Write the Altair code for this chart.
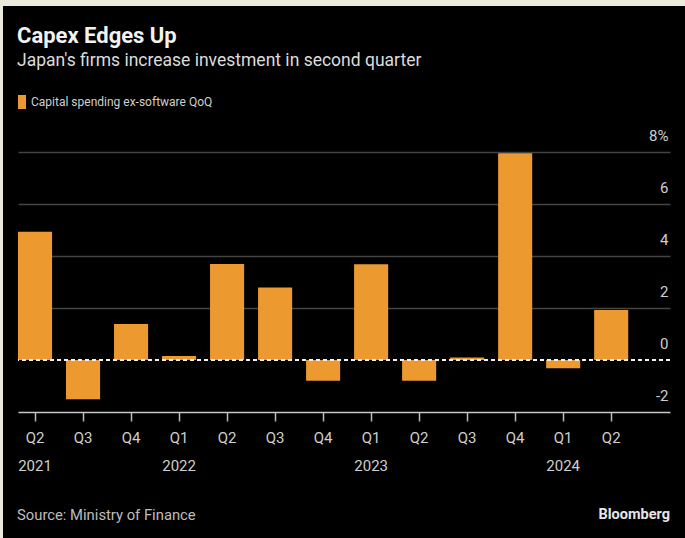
import altair as alt
import pandas as pd

# ---- data ----
periods = ["Q2 2021", "Q3 2021", "Q4 2021", "Q1 2022", "Q2 2022", "Q3 2022", "Q4 2022",
           "Q1 2023", "Q2 2023", "Q3 2023", "Q4 2023", "Q1 2024", "Q2 2024"]
values = [4.93, -1.51, 1.38, 0.15, 3.69, 2.79, -0.80, 3.68, -0.80, 0.10, 7.95, -0.32, 1.92]
series_name = "Capital spending ex-software QoQ"
y_ticks = [-2, 0, 2, 4, 6, 8]

title_text = "Capex Edges Up"
subtitle_text = "Japan's firms increase investment in second quarter"
source_text = "Source: Ministry of Finance"
brand_text = "Bloomberg"

df = pd.DataFrame({"period": periods, "value": values, "series": [series_name] * len(periods)})

FONT = "Roboto"
ORANGE = "#EC9A30"
CREAM = "#ECE9DD"

W, H = 652, 260
PAD = {"left": 18, "top": 152, "right": 15, "bottom": 126}

x_label_expr = ("[split(datum.label, ' ')[0], "
                "(split(datum.label, ' ')[0] == 'Q1' || datum.label == 'Q2 2021') ? split(datum.label, ' ')[1] : '']")
y_label_expr = "datum.value == 8 ? '8%' : (datum.value < 0 ? '-' + abs(datum.value) : datum.label)"

bars = alt.Chart(df).mark_bar(color=ORANGE).encode(
    x=alt.X("period:N", sort=periods,
            scale=alt.Scale(paddingInner=0.29, paddingOuter=0.435, align=0),
            axis=alt.Axis(title=None, labelExpr=x_label_expr, labelAngle=0, labelFont=FONT,
                          labelFontSize=15, labelColor="#cfcfcf", labelPadding=9, labelLineHeight=28,
                          tickColor="#bdbdbd", tickSize=9, tickWidth=1.5,
                          domainColor="#c8c8c8", domainWidth=1.5, grid=False)),
    y=alt.Y("value:Q", scale=alt.Scale(domain=[-2, 8], nice=False),
            axis=alt.Axis(title=None, orient="right", values=y_ticks, labelExpr=y_label_expr,
                          labelFont=FONT, labelFontSize=15, labelColor="#cfcfcf",
                          labelAlign="right", labelBaseline="alphabetic", labelOffset=-12,
                          labelPadding=-2, labelOverlap=False, labelFlush=False,
                          ticks=False, tickSize=0, domain=False, grid=True,
                          gridColor={"condition": {"test": "datum.value <= 0", "value": "transparent"},
                                     "value": "#444444"},
                          gridWidth=1.5)),
    color=alt.Color("series:N", scale=alt.Scale(domain=[series_name], range=[ORANGE]),
                    legend=alt.Legend(title=None, orient="none", legendX=-3, legendY=-57,
                                      symbolType="M-0.57,-1L0.57,-1L0.57,1L-0.57,1Z",
                                      symbolSize=196, symbolStrokeWidth=0, labelOffset=2, padding=0,
                                      labelLimit=0,
                                      labelFont=FONT, labelFontSize=12, labelColor="#cfcfcf")),
)

zero = alt.Chart(pd.DataFrame({"y": [0]})).mark_rule(
    color="#f2f2f2", strokeDash=[4, 3], strokeWidth=2
).encode(y="y:Q")

one = pd.DataFrame({"t": [0]})

def txt(s, x, y, size, weight="normal", align="left", color="#e6e6e6"):
    return alt.Chart(one).mark_text(
        text=s, font=FONT, fontSize=size, fontWeight=weight, align=align,
        baseline="alphabetic", color=color
    ).encode(x=alt.value(x), y=alt.value(y))

title = txt(title_text, -1, -109, 22, "bold", color="#f2f2f2")
subtitle = txt(subtitle_text, -1, -86, 17.5, color="#dcdcdc")
source = txt(source_text, -1, 368, 14.8, color="#bdbdbd")
brand = txt(brand_text, 652, 367, 14.5, "bold", align="right", color="#e6e6e6")

strip_top = alt.Chart(one).mark_rect(color=CREAM).encode(
    x=alt.value(-18), x2=alt.value(667), y=alt.value(-152), y2=alt.value(-146))
strip_left = alt.Chart(one).mark_rect(color=CREAM).encode(
    x=alt.value(-18), x2=alt.value(-15), y=alt.value(-152), y2=alt.value(386))

chart = alt.layer(bars, zero, title, subtitle, source, brand, strip_top, strip_left).properties(
    width=W, height=H,
    autosize=alt.AutoSizeParams(type="none"),
    padding=PAD,
    background="#000000",
).configure_view(stroke=None)

chart.save("out.html", embed_options={"renderer": "svg", "actions": False})
